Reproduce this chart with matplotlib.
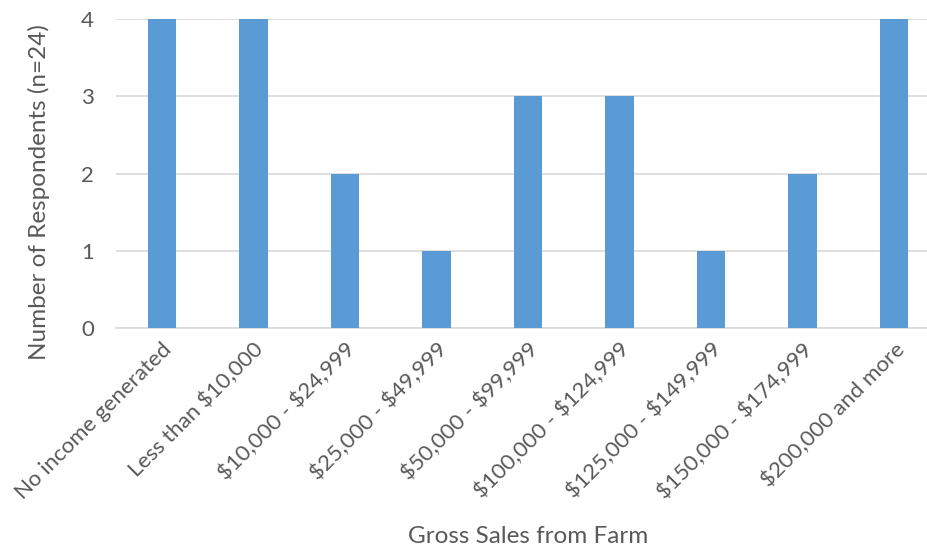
import matplotlib
matplotlib.use("Agg")
import matplotlib.pyplot as plt

categories = ['No income generated', 'Less than $10,000', '$10,000 - $24,999',
              '$25,000 - $49,999', '$50,000 - $99,999', '$100,000 - $124,999',
              '$125,000 - $149,999', '$150,000 - $174,999', '$200,000 and more']
respondents = [4, 4, 2, 1, 3, 3, 1, 2, 4]

plt.rcParams['font.family'] = ['Lato', 'DejaVu Sans']
plt.rcParams['text.parse_math'] = False
grey = '#595959'

fig = plt.figure(figsize=(9.28, 5.5), dpi=100)
ax = fig.add_axes([116 / 928, (550 - 328) / 550, 812 / 928, 309 / 550])

x = list(range(len(categories)))
ax.bar(x, respondents, width=0.31, color='#5B9BD5', zorder=3)

ax.set_xlim(-0.5, 8.37)
ax.set_ylim(0, 4)
ax.set_yticks([0, 1, 2, 3, 4])
ax.yaxis.grid(True, color='#D9D9D9', linewidth=1.2, zorder=0)
for s in ['left', 'right', 'top']:
    ax.spines[s].set_visible(False)
ax.spines['bottom'].set_color('#D9D9D9')
ax.spines['bottom'].set_linewidth(1.2)
ax.tick_params(axis='both', length=0, labelsize=16, colors=grey)
ax.tick_params(axis='y', pad=16)
ax.tick_params(axis='x', pad=8)

ax.set_xticks(x)
ax.set_xticklabels(categories, rotation=45, ha='right', rotation_mode='anchor')

ax.set_ylabel('Number of Respondents (n=24)', fontsize=17.5, color=grey)
ax.yaxis.set_label_coords(-0.081, 0.44)
ax.set_xlabel('Gross Sales from Farm', fontsize=17.5, color=grey)
ax.xaxis.set_label_coords(0.508, -0.64)

fig.savefig('out.png', dpi=100)
